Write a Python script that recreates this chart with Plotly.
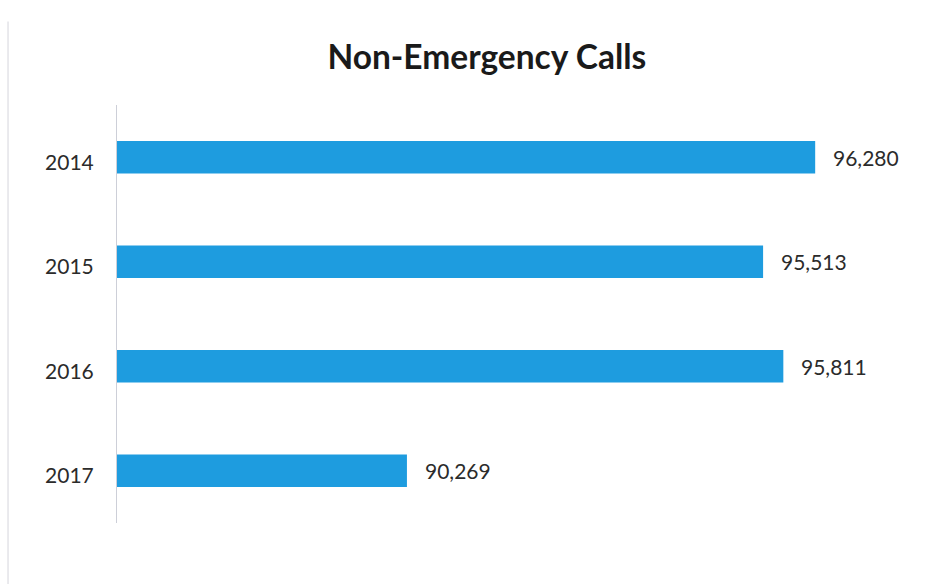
import plotly.graph_objects as go

# Annual non-emergency call volume
years = ["2014", "2015", "2016", "2017"]
calls = [96280, 95513, 95811, 90269]

bar_color = "#1E9CDF"
text_color = "#2b2b2b"
font_family = "Lato, Open Sans, sans-serif"

# One row per year, first year on top
rows = [float(i) for i in range(len(years))]

fig = go.Figure(
    go.Bar(
        x=[float(c) for c in calls],
        y=rows,
        orientation="h",
        width=0.31,
        marker=dict(color=bar_color, line=dict(width=0)),
        customdata=years,
        hovertemplate="%{customdata}: %{x:,}<extra></extra>",
    )
)

# Value labels placed just past the end of each bar
for r, v in zip(rows, calls):
    fig.add_annotation(
        x=v, y=r, xref="x", yref="y",
        text=f"{v:,}", showarrow=False,
        xanchor="left", xshift=16,
        font=dict(family=font_family, size=21, color=text_color),
    )

# Faint page edge on the left
fig.add_shape(
    type="line", xref="paper", yref="paper",
    x0=-0.1337, x1=-0.1337, y0=-0.15, y1=1.2,
    line=dict(color="#e3e3e8", width=1.5),
)

fig.update_layout(
    width=949,
    height=584,
    margin=dict(l=117, r=17, t=105, b=61),
    paper_bgcolor="white",
    plot_bgcolor="white",
    showlegend=False,
    title=dict(
        text="<b>Non-Emergency Calls</b>",
        x=0.513, xanchor="center",
        y=1 - 57 / 584, yanchor="middle", yref="container",
        font=dict(family=font_family, size=33.5, color="#1a1a1a"),
    ),
    xaxis=dict(
        range=[86000, 98000],
        visible=False,
    ),
    yaxis=dict(
        range=[len(years) - 0.5, -0.5],
        tickmode="array",
        # year labels sit slightly below each bar's centre line
        tickvals=[r + 0.05 for r in rows],
        ticktext=years,
        showline=True,
        linecolor="#cdcfd8",
        linewidth=1,
        ticks="outside",
        ticklen=18,
        tickcolor="rgba(0,0,0,0)",
        showgrid=False,
        zeroline=False,
        tickfont=dict(family=font_family, size=21, color=text_color),
    ),
)

fig.write_html("out.html")
